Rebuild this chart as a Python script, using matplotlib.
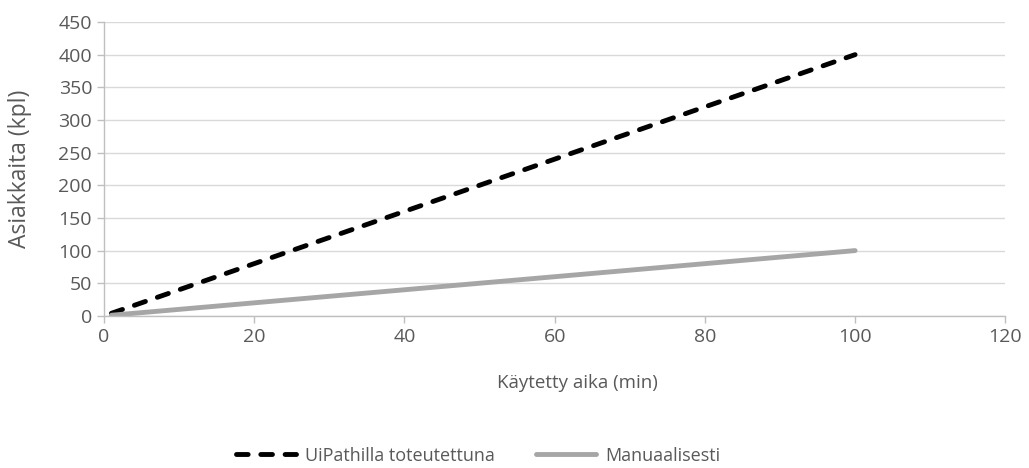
import matplotlib.pyplot as plt

# Data
aika = [1, 100]
uipath = [4, 400]
manuaali = [1, 100]

plt.rcParams['font.family'] = ['Open Sans', 'DejaVu Sans']

fig = plt.figure(figsize=(10.29, 4.68), dpi=100)
ax = fig.add_axes([0.101, 0.325, 0.876, 0.628])

ax.plot(aika, uipath, color='black', lw=3.5, ls=(0, (2.4, 2.6)),
        dash_capstyle='round', label='UiPathilla toteutettuna')
ax.plot(aika, manuaali, color='#a6a6a6', lw=3.5, solid_capstyle='round',
        label='Manuaalisesti')

ax.set_xlim(0, 120)
ax.set_ylim(0, 450)
ax.set_xticks(range(0, 121, 20))
ax.set_yticks(range(0, 451, 50))
ax.yaxis.grid(True, color='#d9d9d9', lw=1)
ax.set_axisbelow(True)

for s in ['top', 'right']:
    ax.spines[s].set_visible(False)
for s in ['left', 'bottom']:
    ax.spines[s].set_color('#bfbfbf')
    ax.spines[s].set_linewidth(1)
ax.tick_params(colors='#595959', labelsize=14, length=5, width=1)
ax.tick_params(axis='both', color='#bfbfbf')

ax.set_xlabel('Käytetty aika (min)', fontsize=13.5, color='#595959', va='center')
ax.set_ylabel('Asiakkaita (kpl)', fontsize=16.5, color='#595959', va='center')
ax.xaxis.set_label_coords(0.525, -0.228)
ax.yaxis.set_label_coords(-0.093, 0.5)

leg = ax.legend(loc='center', bbox_to_anchor=(0.415, -0.476), ncol=2,
                frameon=False, fontsize=13, handlelength=3.3,
                handletextpad=0.5, columnspacing=2.3)
for t in leg.get_texts():
    t.set_color('#595959')

fig.savefig('out.png', dpi=100)
